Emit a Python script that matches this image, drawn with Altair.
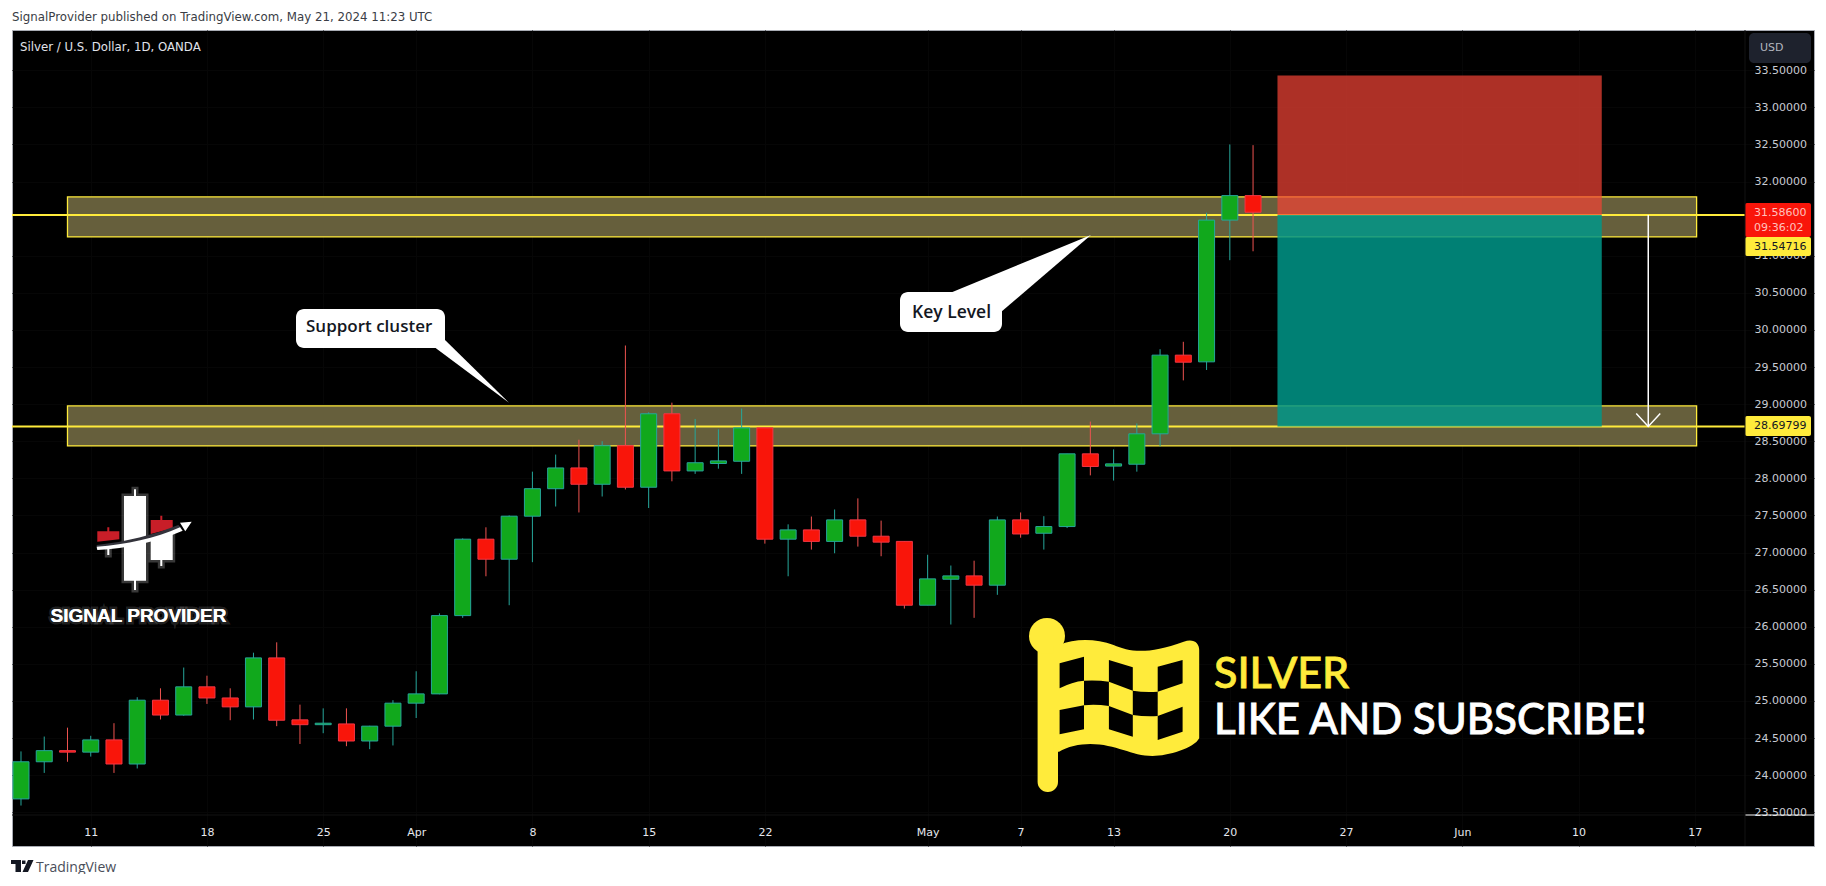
import re
import altair as alt
import pandas as pd

# --- chart values (bar number 0 = 6 Mar 2024, trading days only)
opens = [23.68,24.18,24.33,24.31,24.475,24.15,25.01,24.81,25.19,25.04,24.92,25.58,24.745,24.68,24.69,24.46,24.66,24.97,
         25.095,26.15,27.18,26.91,27.49,27.86,28.14,27.92,28.44,27.88,28.87,28.10,28.20,28.23,28.68,27.18,27.305,27.15,
         27.44,27.22,27.15,26.29,26.64,26.685,26.56,27.44,27.26,27.35,28.33,28.165,28.19,28.60,29.66,29.57,31.48,31.81]
highs = [24.32,24.52,24.64,24.53,24.70,25.05,25.17,25.45,25.34,25.17,25.65,25.79,24.95,24.90,24.90,24.665,25.01,25.40,
         26.18,27.19,27.34,27.50,28.09,28.32,28.52,28.50,29.79,28.89,29.02,28.80,28.66,28.94,28.68,27.38,27.485,27.58,
         27.73,27.43,27.15,26.97,26.825,26.89,27.485,27.54,27.49,28.33,28.765,28.39,28.74,29.74,29.84,31.58,32.50,32.49]
lows = [23.59,24.03,24.18,24.25,24.03,24.09,24.75,24.80,24.96,24.74,24.75,24.66,24.42,24.565,24.39,24.35,24.40,24.77,
        25.09,26.12,26.68,26.29,26.87,27.62,27.54,27.755,27.85,27.60,27.96,28.06,28.13,28.06,27.12,26.68,27.04,26.99,
        27.08,26.95,26.245,26.29,26.03,26.12,26.43,27.20,27.04,27.33,28.04,27.97,28.09,28.43,29.32,29.46,30.94,31.06]
closes = [24.18,24.33,24.31,24.475,24.15,25.01,24.81,25.19,25.04,24.92,25.58,24.74,24.68,24.70,24.46,24.66,24.97,25.095,
          26.15,27.18,26.91,27.49,27.86,28.14,27.92,28.44,27.88,28.87,28.10,28.21,28.235,28.68,27.18,27.305,27.15,27.44,
          27.22,27.14,26.29,26.645,26.685,26.56,27.44,27.25,27.35,28.33,28.16,28.195,28.60,29.66,29.565,31.48,31.81,31.586]

# 31.5 sits wholly behind the price tags in the reference, so it has no visible label
price_ticks = [23.5, 24.0, 24.5, 25.0, 25.5, 26.0, 26.5, 27.0, 27.5, 28.0, 28.5, 29.0, 29.5, 30.0, 30.5, 31.0, 32.0, 32.5, 33.0, 33.5]
time_tick_bars = [3, 8, 13, 17, 22, 27, 32, 39, 43, 47, 52, 57, 62, 67, 72]
time_tick_text = ["11", "18", "25", "Apr", "8", "15", "22", "May", "7", "13", "20", "27", "Jun", "10", "17"]

band_lo = [28.437, 31.254]
band_hi = [28.976, 31.793]
band_from, band_to = 2.0, 72.08
level_values = [28.69799, 31.54716]
zone_from, zone_to = 54.05, 68.0
zone_stop, zone_entry, zone_target = 33.43, 31.55, 28.70
arrow_bar = 70.0

GREEN, GREEN_EDGE = "#11A81C", "#26A69A"
RED, RED_EDGE = "#F9150A", "#F23645"
YELLOW = "#FFEB3B"
TEXT_FONT = "DejaVu Sans"

df = pd.DataFrame({"i": range(len(opens)), "o": opens, "h": highs, "l": lows, "c": closes})
df["up"] = df.c >= df.o

xs = alt.Scale(domain=[-0.387, 77.13], nice=False, zero=False, padding=0)
ys = alt.Scale(domain=[23.045, 34.042], nice=False, zero=False, padding=0)
LEFT, TOP, W, H = 12, 30, 1802, 816

# --- real axes, sitting inside the black panel
y_axis = alt.Axis(orient="right", offset=-69, values=price_ticks, format=".5f", domain=False, ticks=False,
                  labelPadding=9, labelColor="#c8cbd3", labelFontSize=11, labelFont=TEXT_FONT, labelAlign="left",
                  grid=True, gridColor="#060606", labelOverlap=False, labelFlush=False, title=None)
expr = "{" + ",".join(f"'{b}':'{t}'" for b, t in zip(time_tick_bars, time_tick_text)) + "}"
x_axis = alt.Axis(orient="bottom", offset=-31, values=time_tick_bars, domain=False, ticks=False,
                  labelExpr=f"({expr})[''+datum.value]", labelPadding=11, labelColor="#e6e8ee", labelFontSize=11,
                  labelFont=TEXT_FONT, grid=True, gridColor="#060606", labelOverlap=False, labelFlush=False,
                  labelFontWeight={"condition": {"test": "indexof(['Apr','May','Jun'], datum.label) >= 0", "value": "bold"},
                                   "value": "normal"}, title=None)


def X(f, **k):
    return alt.X(f, scale=xs, axis=x_axis, title=None, **k)


def Y(f, **k):
    return alt.Y(f, scale=ys, axis=y_axis, title=None, **k)


def px(v):
    return alt.value(v - LEFT)


def py(v):
    return alt.value(v - TOP)


def tf(d, fx, fy):
    out, toks = [], re.findall(r"[A-Za-z]|-?[\d.]+", d)
    n = 0
    for t in toks:
        if t.isalpha():
            out.append(t)
            n = 0
        else:
            out.append(f"{(fx if n % 2 == 0 else fy)(float(t)):.1f}")
            n += 1
    return " ".join(out)


def shape(d, fill, stroke=None, sw=0, opacity=1.0):
    kw = dict(shape=d, size=4, filled=True, fill=fill, opacity=opacity, strokeWidth=sw)
    kw["stroke"] = stroke if stroke else fill
    return alt.Chart().mark_point(**kw).encode(x=alt.value(0), y=alt.value(0))


def label(t, x, y, size=11, color="#d1d4dc", font=TEXT_FONT, align="left", weight="normal", **k):
    return alt.Chart().mark_text(text=t, fontSize=size, color=color, font=font, align=align,
                                 baseline="middle", fontWeight=weight, **k).encode(x=px(x), y=py(y))


def box(x0, x1, y0, y1, fill, radius=0):
    return alt.Chart().mark_rect(fill=fill, cornerRadius=radius).encode(
        x=px(x0), x2=px(x1), y=py(y0), y2=py(y1))


bands = alt.Chart(pd.DataFrame({"a": [band_from] * 2, "b": [band_to] * 2, "lo": band_lo, "hi": band_hi})).mark_rect(
    fill="#665F3C", stroke=YELLOW, strokeWidth=1.3).encode(x=X("a:Q"), x2="b:Q", y=Y("lo:Q"), y2="hi:Q")

levels = alt.Chart(pd.DataFrame({"p": level_values})).mark_rule(color=YELLOW, strokeWidth=2).encode(
    y=Y("p:Q"), x=px(LEFT), x2=px(1745))

wicks = alt.Chart(df).mark_rule(strokeWidth=1).encode(
    x=X("i:Q"), y=Y("l:Q"), y2="h:Q",
    color=alt.condition("datum.up", alt.value(GREEN_EDGE), alt.value("#EF5350")))

bodies = alt.Chart(df).mark_bar(size=16, orient="vertical", strokeWidth=1).encode(
    x=X("i:Q"), y=Y("o:Q"), y2="c:Q",
    fill=alt.condition("datum.up", alt.value(GREEN), alt.value(RED)),
    stroke=alt.condition("datum.up", alt.value(GREEN_EDGE), alt.value(RED_EDGE)))

zone_df = pd.DataFrame({"a": [zone_from], "b": [zone_to], "s": [zone_stop], "e": [zone_entry], "t": [zone_target]})
zone_red = alt.Chart(zone_df).mark_rect(fill="#F44336", opacity=0.71).encode(x=X("a:Q"), x2="b:Q", y=Y("e:Q"), y2="s:Q")
zone_teal = alt.Chart(zone_df).mark_rect(fill="#009688", opacity=0.85).encode(x=X("a:Q"), x2="b:Q", y=Y("t:Q"), y2="e:Q")

arrow_df = pd.DataFrame({"x": [arrow_bar], "p0": [zone_entry], "p1": [zone_target]})
arrow_line = alt.Chart(arrow_df).mark_rule(color="#FFFFFF", strokeWidth=1.5).encode(x=X("x:Q"), y=Y("p0:Q"), y2="p1:Q")
arrow_head = alt.Chart(arrow_df).mark_point(shape="M -12 -13 L 0 0 L 12 -13", size=4, filled=False, color="#FFFFFF",
                                            strokeWidth=1.5, opacity=1).encode(x=X("x:Q"), y=Y("p1:Q"))


def ident_x(v):
    return v - LEFT


def ident_y(v):
    return v - TOP


# --- callouts
support = [
    shape(tf("M 435.6 348 L 444 339 L 509 402.7 Z", ident_x, ident_y), "#FFFFFF"),
    box(296, 445, 309, 348, "#FFFFFF", 8),
    label("Support cluster", 306, 327, 17, "#131722", "Open Sans", weight=600),
]
key = [
    shape(tf("M 950 293 L 1001 312 L 1091 235 Z", ident_x, ident_y), "#FFFFFF"),
    box(900, 1002, 292, 332, "#FFFFFF", 8),
    label("Key Level", 912, 312.5, 17.5, "#131722", "Open Sans", weight=600),
]

# --- flag emblem
fx = lambda h: 1002 + 0.519 * h - LEFT
fy = lambda v: 600 + v / 3 - TOP
flag_body = "M 100 135 L 110 135 C 140 115 180 115 215 135 C 245 155 280 165 350 125 C 370 115 380 130 380 150 L 380 415 C 370 445 320 468 290 468 C 250 468 220 432 170 432 C 150 432 125 440 110 455 L 100 455 Z"
cells = ("M 111 190 L 158 170 L 158 242 Q 135 245 111 265 Z M 206 180 L 252 202 L 252 272 L 206 245 Z "
         "M 300 200 L 348 180 L 348 250 L 300 275 Z M 158 242 Q 185 240 206 245 L 206 318 Q 180 312 158 316 Z "
         "M 252 272 Q 275 278 300 275 L 300 348 Q 275 350 252 345 Z M 111 330 L 158 316 L 158 388 L 111 403 Z "
         "M 206 318 L 252 345 L 252 410 L 206 388 Z M 300 348 L 348 320 L 348 395 L 300 420 Z")
flag = [
    box(1037.6, 1058, 640, 792, YELLOW, 10),
    alt.Chart().mark_point(shape="circle", size=1296, filled=True, fill=YELLOW, opacity=1).encode(x=px(1047), y=py(636)),
    shape(tf(flag_body, fx, fy), YELLOW),
    shape(tf(cells, fx, fy), "#000000"),
    label("SILVER", 1214, 674.5, 43, YELLOW, "Lato", weight=500, stroke=YELLOW, strokeWidth=0.8),
    label("LIKE AND SUBSCRIBE!", 1214, 721, 42.1, "#FFFFFF", "Lato", weight=500, stroke="#FFFFFF", strokeWidth=0.8),
]

# --- provider logo
lx = lambda h: 40 + h / 3 - LEFT
ly = lambda v: 470 + v / 3 - TOP
logo_white = ("M 252 78 L 318 78 L 318 332 L 252 332 Z M 282 58 L 288 58 L 288 78 L 282 78 Z M 282 332 L 288 332 L 288 360 L 282 360 Z "
              "M 332 210 L 398 185 L 398 270 L 332 270 Z M 361 270 L 367 270 L 367 288 L 361 288 Z M 202 235 L 208 235 L 208 255 L 202 255 Z")
logo_red = ("M 332 150 L 398 150 L 398 175 L 332 192 Z M 361 137 L 367 137 L 367 150 L 361 150 Z "
            "M 172 184 L 238 184 L 238 208 L 172 215 Z M 202 172 L 208 172 L 208 184 L 202 184 Z")
logo_dark = "M 170 225 C 260 215 340 195 415 165 L 425 175 C 350 208 260 230 170 238 Z"
logo_swoosh = "M 170 230 C 260 224 345 205 420 172 L 428 182 C 350 215 260 236 172 240 Z M 455 155 L 420 158 L 436 184 Z"
logo = [
    shape(tf(logo_white, lx, ly), "#FFFFFF", "#FFFFFF", 5, 0.22),
    shape(tf(logo_white, lx, ly), "#FFFFFF"),
    shape(tf(logo_red, lx, ly), "#C81E28"),
    shape(tf(logo_dark, lx, ly), "#33333B"),
    shape(tf(logo_swoosh, lx, ly), "#FFFFFF"),
    label("SIGNAL PROVIDER", 50.5, 615.5, 19, "#FFFFFF", "Liberation Sans", weight="bold",
          stroke="#FFFFFF", strokeWidth=5, strokeOpacity=0.14),
    label("SIGNAL PROVIDER", 50.5, 615.5, 19, "#FFFFFF", "Liberation Sans", weight="bold"),
]

# --- price tags and chrome on the axis
tags = [
    box(1745, 1811, 203, 237, RED, 2),
    label("31.58600", 1754, 213, 11, "#FFC2BE"),
    label("09:36:02", 1754, 228, 11, "#FFC2BE"),
    box(1745, 1811, 237, 256, YELLOW, 2),
    label("31.54716", 1754, 246.5, 11, "#131722"),
    box(1745, 1811, 416, 436, YELLOW, 2),
    label("28.69799", 1754, 426, 11, "#131722"),
    box(1749, 1811, 33, 63, "#1E222D", 5),
    label("USD", 1760, 48, 11, "#B2B5BE"),
    alt.Chart().mark_rule(color="#FFFFFF", strokeWidth=1).encode(x=px(1745), x2=px(1814), y=py(815)),
    alt.Chart().mark_rule(color="#131313", strokeWidth=1).encode(x=px(12), x2=px(1745), y=py(815)),
    alt.Chart().mark_rule(color="#131313", strokeWidth=1).encode(x=px(1745), y=py(30), y2=py(846)),
]

# --- page texts
page = [
    label("SignalProvider published on TradingView.com, May 21, 2024 11:23 UTC", 12, 16.5, 11.8, "#3a3d45"),
    label("Silver / U.S. Dollar, 1D, OANDA", 20, 47, 11.75, "#E0E3EB"),
    label("TradingView", 36, 867.5, 14, "#4A4E59", "Open Sans"),
    shape(tf("M 11 860 L 21 860 L 21 872 L 15.5 872 L 15.5 864 L 11 864 Z M 22 860.5 L 25.5 860.5 L 25.5 864 L 22 864 Z "
             "M 28 860 L 33.5 860 L 28 872 L 22.5 872 Z", ident_x, ident_y), "#131722"),
]

chart = alt.layer(
    bands, levels, wicks, bodies, zone_red, zone_teal, arrow_line, arrow_head,
    *support, *key, *flag, *logo, *tags, *page,
).properties(
    width=W, height=H,
    autosize=alt.AutoSizeParams(type="none"),
    padding={"left": 4, "top": 22, "right": 4, "bottom": 28},
    background="#FFFFFF",
).configure_view(fill="#000000", stroke="#A8ABB3", strokeWidth=1)

chart.save("out.html", embed_options={"renderer": "svg", "actions": False})
